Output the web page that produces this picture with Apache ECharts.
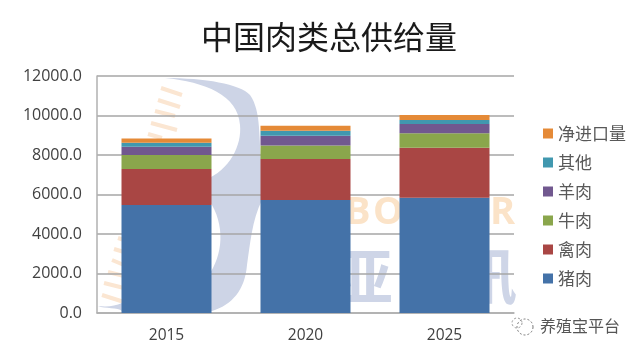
<!DOCTYPE html>
<html>
<head>
<meta charset="utf-8">
<style>
    html, body { margin: 0; padding: 0; background: #fff; }
    #chart-container { width: 640px; height: 354px; filter: blur(0.4px); }
</style>
<script src="https://cdn.jsdelivr.net/npm/echarts@6/dist/echarts.min.js"></script>
</head>
<body>
<div id="chart-container"></div>
<script>
    const years = ['2015', '2020', '2025'];
    const pork = [5470, 5720, 5840];
    const poultry = [1820, 2080, 2530];
    const beef = [710, 680, 730];
    const lamb = [420, 500, 470];
    const other = [200, 250, 200];
    const netImport = [210, 250, 250];
    const legendOrder = ['净进口量', '其他', '羊肉', '牛肉', '禽肉', '猪肉'];

    const latinFont = '"Open Sans", sans-serif';
    const cjkFont = '"Noto Sans CJK SC", sans-serif';

    function stackSeries(name, data, color) {
        return { name, type: 'bar', stack: 'total', barWidth: 90, data, itemStyle: { color } };
    }

    // 水印的蓝灰色弧形
    echarts.graphic.registerShape('watermarkCurve', echarts.graphic.extendPath(
        'M165 78 C205 78 240 84 250 95 C262 112 258 140 262 165 L262 200 C252 220 250 245 247 265 C245 290 232 305 212 311 L122 311 C118 307 105 309 98 306 C108 307 115 306 122 303 L205 280 C222 260 226 230 212 205 L205 195 L205 180 C230 170 242 145 240 125 C238 95 205 82 165 78 Z'
    ));

    // 水印的橙色短线
    const dashes = [
        [161, 88, 182, 95], [158, 100, 180, 107], [155, 111, 175, 116],
        [151, 123, 177, 130], [148, 134, 162, 138], [118, 238, 124, 240],
        [114, 249, 124, 252], [112, 260, 124, 265], [108, 272, 124, 276],
        [104, 283, 124, 288], [102, 295, 124, 302]
    ];
    const watermark = dashes.map(d => ({
        type: 'line',
        z: -1,
        shape: { x1: d[0], y1: d[1], x2: d[2], y2: d[3] },
        style: { stroke: '#fbe6d2', lineWidth: 4 }
    }));
    watermark.push({ type: 'watermarkCurve', z: -1, style: { fill: '#cdd4e6' } });
    [['B', 345], ['O', 373], ['R', 490]].forEach(([text, x]) => {
        watermark.push({
            type: 'text', z: -1, x, y: 194,
            style: { text, fill: '#fbe3c8', font: 'bold 38px ' + latinFont }
        });
    });
    [['亚', 333], ['讯', 457]].forEach(([text, x]) => {
        watermark.push({
            type: 'text', z: -1, x, y: 246,
            style: { text, fill: '#ced5e7', font: 'bold 60px ' + cjkFont }
        });
    });

    const footer = [
        { type: 'circle', shape: { cx: 525, cy: 327, r: 8 }, style: { fill: 'none', stroke: '#777', lineWidth: 1, lineDash: [2, 2] } },
        { type: 'circle', shape: { cx: 517, cy: 323, r: 5 }, style: { fill: 'none', stroke: '#999', lineWidth: 1, lineDash: [2, 2] } },
        { type: 'text', x: 540, y: 318, style: { text: '养殖宝平台', fill: '#555', font: '16px ' + cjkFont } }
    ];

    const option = {
        animation: false,
        backgroundColor: '#fff',
        title: {
            text: '中国肉类总供给量',
            left: 196,
            top: 16,
            textStyle: { fontFamily: cjkFont, fontSize: 32, fontWeight: 'normal', color: '#1a1a1a' }
        },
        legend: {
            orient: 'vertical',
            left: 538,
            top: 120,
            itemWidth: 10,
            itemHeight: 10,
            itemGap: 12,
            icon: 'rect',
            data: legendOrder,
            textStyle: { fontFamily: cjkFont, fontSize: 17, color: '#595959' }
        },
        grid: { left: 97, right: 126, top: 76, bottom: 41 },
        xAxis: {
            type: 'category',
            data: years,
            axisTick: { show: false },
            axisLine: { lineStyle: { color: '#b0b0b0', width: 1.5 } },
            axisLabel: { fontFamily: latinFont, fontSize: 15.5, color: '#404040', margin: 15 }
        },
        yAxis: {
            type: 'value',
            min: 0,
            max: 12000,
            interval: 2000,
            axisLine: { show: true, lineStyle: { color: '#b0b0b0', width: 1.5 } },
            axisTick: { show: false },
            splitLine: { lineStyle: { color: '#a6a6a6', width: 1.5 } },
            axisLabel: {
                fontFamily: latinFont,
                fontSize: 16,
                color: '#404040',
                margin: 15,
                formatter: value => value.toFixed(1)
            }
        },
        graphic: watermark.concat(footer),
        series: [
            stackSeries('猪肉', pork, '#4472a8'),
            stackSeries('禽肉', poultry, '#a94644'),
            stackSeries('牛肉', beef, '#8aa64c'),
            stackSeries('羊肉', lamb, '#71588f'),
            stackSeries('其他', other, '#4198af'),
            stackSeries('净进口量', netImport, '#e58a37')
        ]
    };

    const myChart = echarts.init(document.getElementById('chart-container'));
    myChart.setOption(option);
</script>
</body>
</html>
